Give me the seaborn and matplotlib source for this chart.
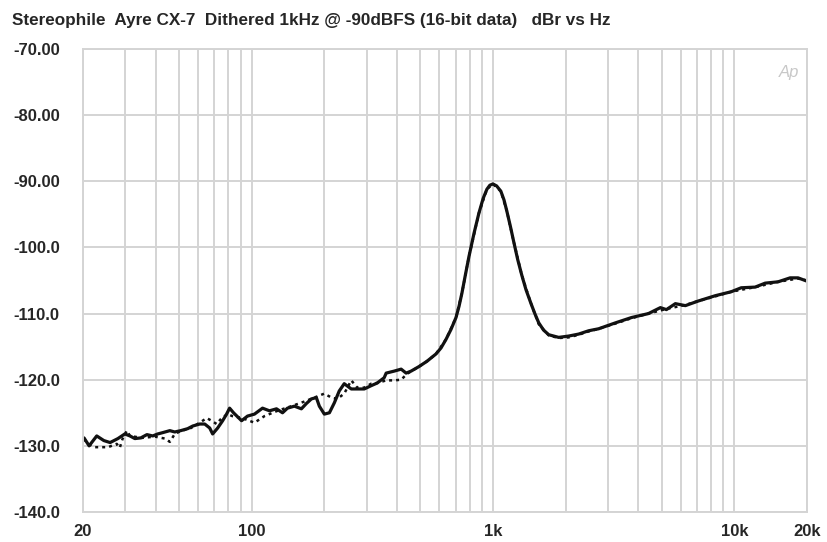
import numpy as np
import pandas as pd
import matplotlib
matplotlib.use('Agg')
import matplotlib.pyplot as plt
import seaborn as sns
from matplotlib.ticker import FixedLocator, NullFormatter

# Channel 1 (solid) - frequency in Hz, level in dBr
freq_a = [20.2, 21.2, 22.8, 24.4, 25.9, 27.9, 29.8, 31.3, 32.8, 34.7, 36.8, 38.9,
          40.8, 42.8, 45.8, 48.0, 50.8, 54.3, 57.0, 60.9, 63.9, 67.0, 68.9, 72.3,
          75.8, 78.7, 81.0, 84.1, 87.4, 90.8, 96.1, 102.7, 110.9, 118.5, 126.7,
          134.2, 140.7, 150.3, 160.7, 168.5, 176.8, 185.3, 190.7, 200, 209.9, 220,
          230.6, 241.8, 258.6, 273.8, 292.6, 312.8, 331.2, 354, 360.8, 389.4, 416.2,
          436.4, 457.6, 494, 533, 580.6, 608.8, 638.6, 669.6, 702.4, 723, 743.4,
          765, 794.6, 835, 874.2, 910, 943.4, 970, 998.8, 1035, 1077.6, 1110,
          1140.8, 1180, 1219.4, 1265, 1316, 1370, 1434, 1490, 1547, 1620, 1702,
          1871, 2058, 2264, 2490, 2738, 3218, 3748, 4406, 4938, 5230, 5696, 6266,
          7090, 8334, 9706, 10676, 12194, 13416, 15180, 17020, 18360, 20000]
level_a = [-128.8, -130.0, -128.5, -129.2, -129.5, -128.9, -128.2, -128.5, -128.9,
           -128.8, -128.3, -128.5, -128.2, -128.0, -127.7, -127.9, -127.7, -127.4,
           -127.0, -126.7, -126.7, -127.3, -128.2, -127.3, -126.2, -125.2, -124.3,
           -125.0, -125.6, -126.2, -125.5, -125.2, -124.3, -124.7, -124.4, -125.0,
           -124.3, -124.0, -124.4, -123.6, -122.9, -122.7, -124.0, -125.2, -125.0,
           -123.5, -121.7, -120.6, -121.4, -121.4, -121.4, -120.9, -120.5, -119.7,
           -119.0, -118.7, -118.4, -119.0, -118.7, -118.0, -117.2, -116.1, -115.2,
           -113.9, -112.4, -110.6, -108.9, -106.9, -104.5, -101.4, -97.8, -94.8,
           -92.6, -91.2, -90.6, -90.4, -90.7, -91.5, -92.8, -94.5, -96.8, -99.2,
           -101.8, -104.2, -106.4, -108.4, -110.0, -111.4, -112.5, -113.2, -113.6,
           -113.4, -113.1, -112.6, -112.3, -111.4, -110.6, -110.0, -109.1, -109.4,
           -108.5, -108.8, -108.1, -107.3, -106.7, -106.1, -106.0, -105.4, -105.2,
           -104.6, -104.6, -105.1]

# Channel 2 (dotted)
freq_b = [20.2, 21.0, 22.4, 24.0, 25.4, 27.6, 28.4, 29.2, 30.4, 31.3, 35.1, 39.7,
          43.7, 45.8, 48.0, 51.3, 55.4, 60.9, 65.1, 68.2, 71.6, 75.1, 79.5, 83.1,
          91.4, 102.7, 113.0, 127.9, 146.1, 165.4, 181.9, 200, 213.9, 226.4, 241.8,
          258.6, 273.8, 292.6, 312.8, 331.2, 360.8, 389.4, 416.2, 440.6, 494, 533,
          580.6, 638.6, 702.4, 743.4, 794.6, 874.2, 943.4, 998.8, 1077.6, 1140.8,
          1219.4, 1316, 1434, 1547, 1702, 1871, 2058, 2264, 2490, 2738, 3218, 3748,
          4406, 5230, 6266, 7090, 8334, 9706, 12194, 15180, 18360, 20000]
level_b = [-129.0, -129.7, -130.2, -130.2, -130.2, -129.7, -130.3, -128.9, -127.7,
           -128.5, -128.8, -128.6, -128.9, -129.4, -128.2, -127.7, -127.4, -126.5,
           -125.8, -126.2, -126.7, -125.8, -125.2, -125.5, -125.8, -126.5, -125.5,
           -124.7, -124.0, -123.3, -122.7, -122.1, -122.7, -122.9, -122.1, -120.1,
           -121.2, -121.2, -120.6, -120.5, -120.1, -120.1, -120.0, -119.1, -118.0,
           -117.2, -116.1, -113.9, -110.6, -106.9, -101.4, -94.8, -91.2, -90.4,
           -91.5, -94.5, -99.2, -104.2, -108.4, -111.6, -113.3, -113.7, -113.6,
           -113.2, -112.7, -112.3, -111.5, -110.7, -110.0, -109.3, -108.7, -108.1,
           -107.4, -106.7, -106.0, -105.2, -104.7, -105.0]

x_major = [20, 100, 1000, 10000, 20000]
x_major_labels = ['20', '100', '1k', '10k', '20k']
x_minor = [30, 40, 50, 60, 70, 80, 90, 200, 300, 400, 500, 600, 700, 800, 900,
           2000, 3000, 4000, 5000, 6000, 7000, 8000, 9000]
y_ticks = [-140, -130, -120, -110, -100, -90, -80, -70]
y_labels = ['-140.0', '-130.0', '-120.0', '-110.0', '-100.0', '-90.00', '-80.00', '-70.00']

df_a = pd.DataFrame({'Hz': freq_a, 'dBr': level_a})
df_b = pd.DataFrame({'Hz': freq_b, 'dBr': level_b})

sns.set_style('white')
plt.rcParams['font.family'] = ['Liberation Sans', 'DejaVu Sans']

fig = plt.figure(figsize=(8.28, 5.42), dpi=100)
ax = fig.add_axes([83 / 828, 1 - 512 / 542, (807 - 83) / 828, (512 - 49) / 542])

grid_col = '#d4d4d4'
sns.lineplot(data=df_b, x='Hz', y='dBr', ax=ax, color='#111111', lw=1.8,
             linestyle=(0, (1.2, 1.6)), sort=False, estimator=None)
sns.lineplot(data=df_a, x='Hz', y='dBr', ax=ax, color='#111111', lw=2.3,
             sort=False, estimator=None, solid_joinstyle='round')

ax.set_xscale('log')
ax.set_xlim(20, 20000)
ax.set_ylim(-140, -70)
ax.xaxis.set_major_locator(FixedLocator(x_major))
ax.xaxis.set_minor_locator(FixedLocator(x_minor))
ax.xaxis.set_minor_formatter(NullFormatter())
ax.set_xticks(x_major)
ax.set_xticklabels(x_major_labels)
ax.set_yticks(y_ticks)
ax.set_yticklabels(y_labels)
ax.grid(True, which='both', axis='x', color=grid_col, lw=1.4)
ax.grid(True, which='major', axis='y', color=grid_col, lw=1.4)
ax.set_axisbelow(True)
for s in ax.spines.values():
    s.set_color(grid_col)
    s.set_linewidth(1.4)

ax.tick_params(axis='x', which='both', length=0, pad=9, labelsize=12)
ax.tick_params(axis='y', length=0, pad=50, labelsize=12)
for lbl in ax.get_xticklabels() + ax.get_yticklabels():
    lbl.set_fontweight('bold')
for lbl in ax.get_yticklabels():
    lbl.set_horizontalalignment('left')
ax.set_xlabel('')
ax.set_ylabel('')

fig.text(12 / 828, 1 - 20 / 542,
         'Stereophile  Ayre CX-7  Dithered 1kHz @ -90dBFS (16-bit data)   dBr vs Hz',
         fontsize=12.3, fontweight='bold', va='center', ha='left')
ax.text(0.975, 0.965, 'Ap', transform=ax.transAxes, fontsize=12, style='italic',
        color='#c8c8c8', ha='center', va='top')

fig.savefig('out.png', dpi=100)
plt.close(fig)
